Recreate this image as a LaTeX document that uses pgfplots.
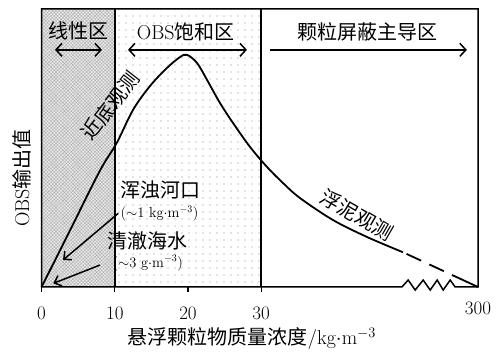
\documentclass[border=0pt]{standalone}
\usepackage{pgfplots}
\pgfplotsset{compat=1.18}
\usepackage{fontspec}
\newfontfamily\cjk{Noto Sans CJK SC}
\usetikzlibrary{patterns.meta,arrows.meta}
\tikzset{
  dblarr/.style={line width=1.5pt, arrows={Straight Barb[length=6pt,width=13pt]-Straight Barb[length=6pt,width=13pt]}},
  sglarr/.style={line width=1.5pt, arrows={-Straight Barb[length=6pt,width=13pt]}},
  smarr/.style={line width=1.5pt, arrows={-Straight Barb[length=6pt,width=11pt]}},
}
\newcommand{\bigfs}{\fontsize{20}{24}\selectfont}
\newcommand{\smfs}{\fontsize{14.5}{17}\selectfont}
\begin{document}
\begin{tikzpicture}
\begin{axis}[name=ax, scale only axis, width=436.4pt, height=278pt,
  xmin=0, xmax=59.62, ymin=0, ymax=100, clip=false,
  axis line style={draw=none},
  xtick={0,10,20,30}, xticklabels={0,10,20,30},
  extra x ticks={59.62}, extra x tick labels={300},
  extra x tick style={major tick length=0pt},
  ytick=\empty,
  xtick pos=left, tick align=outside, major tick length=5pt,
  every tick/.style={black, line width=1.2pt},
  xticklabel style={font=\fontsize{19}{22}\selectfont, yshift=-11pt},
]
% background regions
\addplot[draw=none, fill=black!8] coordinates {(0,100) (10,100)} \closedcycle;
\addplot[draw=none, pattern={Hatch[distance=2.4pt,angle=45,line width=0.4pt]}, pattern color=black!32] coordinates {(0,100) (10,100)} \closedcycle;
\addplot[draw=none, pattern={Dots[distance=7pt,radius=0.7pt]}, pattern color=black!45] coordinates {(10,100) (30,100)} \closedcycle;
% region dividers
\addplot[black, line width=1.5pt] coordinates {(10,0) (10,100)};
\addplot[black, line width=1.5pt] coordinates {(30,0) (30,100)};
% frame with axis break
\addplot[black, line width=1.5pt, line join=miter] coordinates {(0,50) (0,100) (59.62,100) (59.62,0) (56.50,0) (55.82,2.5) (54.86,-1.1) (54.04,2.5) (53.09,-1.1) (52.13,2.5) (51.04,-1.1) (50.08,2.5) (49.22,0) (0,0) (0,50)};
% OBS response curve
\addplot[black, line width=1.8pt, smooth, tension=0.55] coordinates {
 (0,0) (4,21) (8,42) (10.26,51.8) (12.49,63.7) (14.81,72.3) (17.13,78.8) (18.91,82.7) (19.86,83.5)
 (21.23,80.6) (22.6,74.5) (24.37,66.2) (26.15,59.0) (28.47,50.4) (30.79,43.2) (32.98,37.4)
 (35.3,32.0) (39.8,24.1) (44.45,18.0) (49.37,12.5)};
\addplot[black, line width=1.8pt, dash pattern=on 16pt off 9pt on 16pt off 9pt on 40pt off 4pt, dash phase=90pt] coordinates {(49.37,12.5) (59.62,0)};
% region arrows
\addplot[dblarr] coordinates {(1.83,85.3) (8.25,85.3)};
\addplot[dblarr] coordinates {(11.8,85.3) (28.06,85.3)};
\addplot[sglarr] coordinates {(31.2,85.3) (58.1,85.3)};
% pointer arrows
\addplot[smarr] coordinates {(10.48,26.5) (2.92,9.7)};
\addplot[smarr] coordinates {(7.98,7.9) (1.6,1.3)};
% texts
\node at (axis cs:5.1,92.1) {\bigfs\cjk 线性区};
\node at (axis cs:19.7,91.9) {\bigfs OBS{\cjk 饱和区}};
\node at (axis cs:44.5,91.7) {\bigfs\cjk 颗粒屏蔽主导区};
\node[rotate=52] at (axis cs:9.4,65.2) {\bigfs\cjk 近底观测};
\node[rotate=-30] at (axis cs:43.1,25.9) {\bigfs\cjk 浮泥观测};
\node at (axis cs:16.2,34.9) {\bigfs\cjk 浑浊河口};
\node at (axis cs:16.1,26.3) {\smfs ($\sim$1 kg${\cdot}$m$^{-3}$)};
\node at (axis cs:14.4,16.5) {\bigfs\cjk 清澈海水};
\node at (axis cs:14.5,8.6) {\smfs ($\sim$3 g${\cdot}$m$^{-3}$)};
\node[yshift=-52pt] at (rel axis cs:0.482,0) {\bigfs{\cjk 悬浮颗粒物质量浓度}/kg${\cdot}$m$^{-3}$};
\node[rotate=90] at (rel axis cs:-0.046,0.392) {\bigfs OBS{\cjk 输出值}};
\end{axis}
\pgfresetboundingbox
\path ([shift={(-41.6pt,-65pt)}]ax.south west) rectangle ([shift={(19pt,9pt)}]ax.north east);
\end{tikzpicture}
\end{document}
